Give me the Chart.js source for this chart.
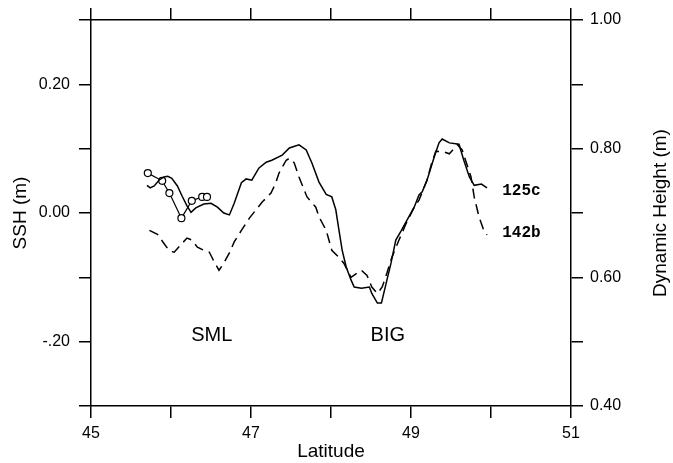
<!DOCTYPE html>
<html>
<head>
<meta charset="utf-8">
<script src="https://cdn.jsdelivr.net/npm/chart.js@4"></script>
<style>
  html, body { margin: 0; padding: 0; background: #fff; }
  #wrap { width: 673px; height: 463px; position: relative; }
</style>
</head>
<body>
<div id="wrap"><canvas id="chart"></canvas></div>
<script>
// Track 125c (solid), SSH in m vs latitude
const solidLat = [45.70, 45.74, 45.79, 45.85, 45.91, 45.96, 46.01, 46.08, 46.14, 46.20, 46.25, 46.31, 46.41, 46.50, 46.58, 46.66, 46.73, 46.79, 46.88, 46.94, 47.01, 47.10, 47.19, 47.26, 47.39, 47.48, 47.60, 47.69, 47.76, 47.85, 47.94, 48.01, 48.06, 48.10, 48.14, 48.19, 48.25, 48.29, 48.38, 48.48, 48.51, 48.58, 48.63, 48.69, 48.75, 48.81, 48.88, 48.95, 49.04, 49.10, 49.14, 49.20, 49.29, 49.35, 49.39, 49.48, 49.60, 49.66, 49.73, 49.79, 49.88, 49.95];
const solidSSH = [0.043, 0.039, 0.042, 0.051, 0.056, 0.057, 0.054, 0.042, 0.026, 0.011, 0.001, 0.008, 0.014, 0.015, 0.009, 0.000, -0.003, 0.015, 0.047, 0.053, 0.051, 0.070, 0.079, 0.082, 0.090, 0.101, 0.106, 0.098, 0.078, 0.048, 0.029, 0.025, 0.005, -0.027, -0.058, -0.084, -0.104, -0.115, -0.117, -0.115, -0.125, -0.140, -0.140, -0.109, -0.078, -0.042, -0.027, -0.011, 0.009, 0.028, 0.033, 0.051, 0.087, 0.109, 0.115, 0.109, 0.107, 0.082, 0.056, 0.043, 0.045, 0.039];

// Track 142b (dashed)
const dashedLat = [45.73, 45.83, 45.91, 45.98, 46.04, 46.14, 46.20, 46.26, 46.33, 46.41, 46.48, 46.54, 46.60, 46.66, 46.73, 46.79, 46.88, 46.98, 47.14, 47.25, 47.31, 47.35, 47.39, 47.44, 47.48, 47.54, 47.60, 47.70, 47.81, 47.85, 47.94, 48.01, 48.10, 48.16, 48.25, 48.33, 48.38, 48.45, 48.51, 48.58, 48.64, 48.70, 48.76, 48.85, 48.94, 49.04, 49.10, 49.20, 49.26, 49.31, 49.41, 49.48, 49.58, 49.64, 49.70, 49.75, 49.79, 49.85, 49.91, 49.95];
const dashedSSH = [-0.027, -0.033, -0.047, -0.059, -0.061, -0.047, -0.039, -0.042, -0.053, -0.058, -0.061, -0.076, -0.089, -0.078, -0.062, -0.045, -0.027, -0.008, 0.017, 0.031, 0.047, 0.062, 0.071, 0.082, 0.085, 0.078, 0.056, 0.025, 0.009, -0.006, -0.027, -0.058, -0.069, -0.078, -0.100, -0.093, -0.089, -0.097, -0.115, -0.125, -0.115, -0.093, -0.069, -0.042, -0.016, 0.009, 0.020, 0.051, 0.078, 0.096, 0.095, 0.092, 0.106, 0.098, 0.075, 0.056, 0.025, -0.006, -0.027, -0.034];

// Station points (circles)
const circleLat = [45.71, 45.89, 45.98, 46.13, 46.26, 46.39, 46.45];
const circleSSH = [0.062, 0.050, 0.031, -0.008, 0.019, 0.025, 0.025];

const sshTickLabels = { '20': '0.20', '0': '0.00', '-20': '-.20' };
const dynTickLabels = { '100': '1.00', '80': '0.80', '60': '0.60', '40': '0.40' };
const latTickLabels = { '45': '45', '47': '47', '49': '49', '51': '51' };

function pts(xs, ys) {
    return xs.map((x, i) => ({ x: x, y: ys[i] }));
}

const FONT = "'Liberation Sans', Arial, sans-serif";

// Text labels inside the plot, plus the right axis title (reads bottom to top)
const textLabels = {
    id: 'textLabels',
    afterDraw(chart) {
        const ctx = chart.ctx;
        const xs = chart.scales.x, ys = chart.scales.y;
        ctx.save();
        ctx.fillStyle = '#000';
        ctx.textBaseline = 'middle';
        ctx.font = '20px ' + FONT;
        ctx.textAlign = 'center';
        ctx.fillText('SML', xs.getPixelForValue(46.51), ys.getPixelForValue(-0.19));
        ctx.fillText('BIG', xs.getPixelForValue(48.71), ys.getPixelForValue(-0.19));
        ctx.font = "bold 16px 'Liberation Mono', monospace";
        ctx.textAlign = 'left';
        ctx.fillText('125c', xs.getPixelForValue(50.14), ys.getPixelForValue(0.034));
        ctx.fillText('142b', xs.getPixelForValue(50.14), ys.getPixelForValue(-0.031));

        const y2 = chart.scales.y2;
        ctx.translate(y2.right - 12, (y2.top + y2.bottom) / 2);
        ctx.rotate(-Math.PI / 2);
        ctx.textAlign = 'center';
        ctx.font = '19px ' + FONT;
        ctx.fillText('Dynamic Height (m)', 0, 0);
        ctx.restore();
    }
};

function axisGrid() {
    return { drawOnChartArea: false, drawTicks: true, tickLength: 12, color: '#000', lineWidth: 1.5 };
}
const axisBorder = { display: true, color: '#000', width: 1.5 };

new Chart(document.getElementById('chart'), {
    type: 'line',
    data: {
        datasets: [
            {
                data: pts(solidLat, solidSSH),
                borderColor: '#000', borderWidth: 1.5, pointRadius: 0, tension: 0
            },
            {
                data: pts(dashedLat, dashedSSH),
                borderColor: '#000', borderWidth: 1.5, borderDash: [10, 6], pointRadius: 0, tension: 0
            },
            {
                data: pts(circleLat, circleSSH),
                borderColor: '#000', borderWidth: 1.2, pointRadius: 3.5, pointBorderWidth: 1.2,
                pointBackgroundColor: '#fff', pointBorderColor: '#000', tension: 0
            }
        ]
    },
    options: {
        responsive: true,
        maintainAspectRatio: false,
        animation: false,
        layout: { padding: 0 },
        plugins: { legend: { display: false }, tooltip: { enabled: false } },
        scales: {
            x: {
                type: 'linear', position: 'bottom', min: 45, max: 51,
                afterFit: s => { s.height = 57; },
                ticks: {
                    stepSize: 1, padding: 6, color: '#000', maxRotation: 0,
                    font: { family: FONT, size: 16 },
                    callback: v => latTickLabels[String(Math.round(v))] || ''
                },
                grid: axisGrid(), border: axisBorder,
                title: { display: true, text: 'Latitude', color: '#000', font: { family: FONT, size: 19 }, padding: { top: 0, bottom: 0 } }
            },
            x2: {
                type: 'linear', position: 'top', min: 45, max: 51,
                afterFit: s => { s.height = 20; },
                ticks: { stepSize: 1, callback: () => '' },
                grid: axisGrid(), border: axisBorder
            },
            y: {
                type: 'linear', position: 'left', min: -0.3, max: 0.3,
                afterFit: s => { s.width = 91; },
                ticks: {
                    stepSize: 0.1, padding: 9, color: '#000',
                    font: { family: FONT, size: 16 },
                    callback: v => sshTickLabels[String(Math.round(v * 100))] || ''
                },
                grid: axisGrid(), border: axisBorder,
                title: { display: true, text: 'SSH (m)', color: '#000', font: { family: FONT, size: 19 }, padding: { top: 9, bottom: 0 } }
            },
            y2: {
                type: 'linear', position: 'right', min: 0.4, max: 1.0,
                afterFit: s => { s.width = 102; },
                ticks: {
                    stepSize: 0.1, padding: 7, color: '#000',
                    font: { family: FONT, size: 16 },
                    callback: v => dynTickLabels[String(Math.round(v * 100))] || ''
                },
                grid: axisGrid(), border: axisBorder
            }
        }
    },
    plugins: [textLabels]
});
</script>
</body>
</html>
